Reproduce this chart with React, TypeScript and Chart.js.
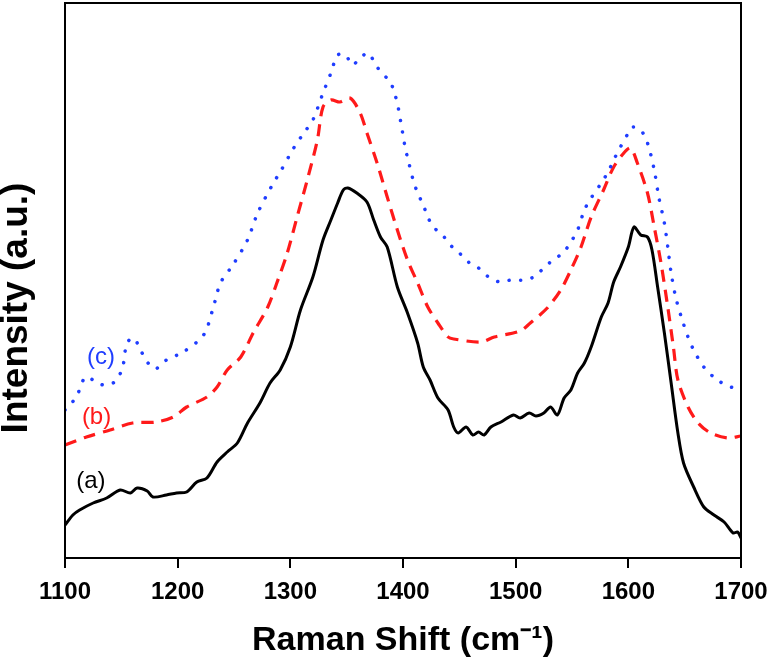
import React, { useEffect, useRef } from "react";
import { Chart, registerables } from "chart.js";

Chart.register(...registerables);

// Curve (a) — black solid
const aShift = [1100, 1107, 1113, 1125, 1137, 1149, 1158, 1164, 1173, 1178, 1190, 1199, 1208, 1217, 1226, 1235, 1244, 1253, 1262, 1273, 1282, 1291, 1300, 1309, 1320, 1329, 1336, 1342, 1347, 1351, 1359, 1368, 1374, 1380, 1386, 1395, 1404, 1413, 1418, 1424, 1431, 1440, 1445, 1449, 1456, 1462, 1467, 1472, 1478, 1487, 1498, 1504, 1512, 1518, 1525, 1531, 1537, 1543, 1549, 1555, 1561, 1567, 1576, 1582, 1587, 1593, 1600, 1605, 1611, 1617, 1621, 1626, 1632, 1638, 1644, 1649, 1658, 1667, 1676, 1685, 1693, 1697, 1700];
const aIntensity = [33, 43, 48, 55, 60, 68, 65, 70, 67, 61, 63, 65, 66, 76, 80, 96, 106, 115, 135, 155, 175, 188, 211, 248, 281, 318, 338, 355, 368, 370, 365, 356, 338, 321, 311, 271, 245, 215, 191, 178, 160, 148, 131, 125, 131, 123, 126, 123, 131, 136, 143, 140, 145, 142, 145, 151, 143, 160, 168, 185, 195, 211, 241, 255, 276, 291, 311, 331, 323, 321, 308, 271, 225, 175, 125, 95, 71, 51, 43, 36, 25, 26, 20];

// Curve (b) — red dashed
const bShift = [1100, 1119, 1140, 1160, 1181, 1196, 1208, 1226, 1235, 1244, 1256, 1267, 1280, 1288, 1297, 1306, 1315, 1324, 1329, 1336, 1344, 1353, 1362, 1368, 1377, 1386, 1395, 1404, 1413, 1422, 1431, 1440, 1445, 1469, 1481, 1504, 1513, 1528, 1540, 1549, 1558, 1567, 1578, 1587, 1596, 1602, 1608, 1617, 1623, 1629, 1635, 1640, 1644, 1653, 1662, 1673, 1688, 1700];
const bIntensity = [113, 121, 128, 135, 136, 141, 151, 161, 171, 188, 201, 225, 251, 275, 304, 341, 378, 418, 451, 458, 456, 460, 445, 425, 395, 361, 328, 298, 275, 251, 235, 221, 219, 216, 221, 227, 235, 250, 268, 288, 311, 341, 368, 391, 405, 410, 395, 365, 331, 295, 251, 211, 178, 151, 135, 125, 120, 122];

// Curve (c) — blue dotted
const cShift = [1100, 1110, 1118, 1125, 1134, 1144, 1151, 1155, 1161, 1167, 1173, 1180, 1190, 1205, 1223, 1231, 1238, 1249, 1262, 1271, 1285, 1291, 1303, 1312, 1320, 1329, 1336, 1342, 1349, 1355, 1362, 1369, 1377, 1389, 1393, 1396, 1398, 1400, 1402, 1405, 1409, 1413, 1418, 1422, 1427, 1435, 1442, 1450, 1458, 1467, 1476, 1486, 1496, 1507, 1516, 1525, 1533, 1542, 1549, 1555, 1561, 1567, 1576, 1582, 1587, 1593, 1600, 1604, 1611, 1617, 1623, 1627, 1632, 1635, 1638, 1642, 1647, 1653, 1658, 1667, 1679, 1691, 1700];
const cIntensity = [148, 161, 181, 178, 173, 176, 190, 215, 220, 208, 196, 189, 198, 206, 223, 248, 275, 293, 318, 345, 375, 386, 410, 425, 438, 465, 485, 503, 503, 493, 500, 505, 491, 475, 463, 449, 436, 423, 410, 396, 378, 365, 353, 341, 331, 323, 313, 305, 296, 290, 281, 276, 278, 278, 281, 290, 298, 305, 316, 328, 348, 360, 375, 386, 398, 411, 425, 431, 428, 415, 388, 361, 335, 311, 285, 261, 241, 221, 208, 191, 178, 171, 169];

const xTicks = [1100, 1200, 1300, 1400, 1500, 1600, 1700];

const curveLabels = ["(a)", "(b)", "(c)"];
const labelShift = [1123, 1128, 1132];
const labelIntensity = [77, 141, 201];
const curveColors = ["#000000", "#ff1a1a", "#1f3dff"];

const xTitle = "Raman Shift (cm\u207B\u00B9)";
const yTitle = "Intensity (a.u.)";

const FONT = "'Liberation Sans', Arial, sans-serif";

const toPoints = (xs: number[], ys: number[]) => xs.map((x, i) => ({ x, y: ys[i] }));

export default function App() {
  const ref = useRef<HTMLCanvasElement>(null);

  useEffect(() => {
    document.body.style.margin = "0";
    const canvas = ref.current;
    if (!canvas) return;

    const framePlugin = {
      id: "frame",
      afterDraw(chart: any) {
        const { ctx } = chart;
        const { left, top, right, bottom } = chart.chartArea;
        ctx.save();
        ctx.strokeStyle = "#000";
        ctx.lineWidth = 2;
        ctx.strokeRect(left, top, right - left, bottom - top);
        ctx.restore();
      },
    };

    const labelPlugin = {
      id: "curveLabels",
      afterDatasetsDraw(chart: any) {
        const { ctx } = chart;
        const xs = chart.scales.x;
        const ys = chart.scales.y;
        ctx.save();
        ctx.font = `24px ${FONT}`;
        ctx.textAlign = "center";
        ctx.textBaseline = "middle";
        curveLabels.forEach((t, i) => {
          ctx.fillStyle = curveColors[i];
          ctx.fillText(t, xs.getPixelForValue(labelShift[i]), ys.getPixelForValue(labelIntensity[i]));
        });
        ctx.restore();
      },
    };

    const yTitlePlugin = {
      id: "yTitle",
      afterDraw(chart: any) {
        const { ctx } = chart;
        const ys = chart.scales.y;
        ctx.save();
        ctx.translate(17, ys.getPixelForValue(250));
        ctx.rotate(-Math.PI / 2);
        ctx.font = `bold 37px ${FONT}`;
        ctx.fillStyle = "#000";
        ctx.textAlign = "center";
        ctx.textBaseline = "middle";
        ctx.fillText(yTitle, 0, 0);
        ctx.restore();
      },
    };

    const chart = new Chart(canvas, {
      type: "line",
      data: {
        datasets: [
          {
            label: "(c)",
            data: toPoints(cShift, cIntensity),
            borderColor: curveColors[2],
            borderWidth: 3.5,
            borderDash: [0.1, 11.5],
            borderCapStyle: "round",
            pointRadius: 0,
            tension: 0.3,
            fill: false,
          },
          {
            label: "(b)",
            data: toPoints(bShift, bIntensity),
            borderColor: curveColors[1],
            borderWidth: 3.2,
            borderDash: [12, 8],
            pointRadius: 0,
            tension: 0.3,
            fill: false,
          },
          {
            label: "(a)",
            data: toPoints(aShift, aIntensity),
            borderColor: curveColors[0],
            borderWidth: 3,
            pointRadius: 0,
            tension: 0.3,
            fill: false,
          },
        ],
      },
      options: {
        animation: false,
        responsive: false,
        maintainAspectRatio: false,
        devicePixelRatio: 1,
        layout: { padding: { left: 0, top: 3, right: 31, bottom: 0 } },
        plugins: {
          legend: { display: false },
          tooltip: { enabled: false },
        },
        scales: {
          x: {
            type: "linear",
            min: 1100,
            max: 1700,
            afterBuildTicks: (s: any) => {
              s.ticks = xTicks.map((v) => ({ value: v }));
            },
            afterFit: (s: any) => {
              s.height = 105;
              s.paddingLeft = 0;
              s.paddingRight = 0;
            },
            ticks: {
              color: "#000",
              padding: 10,
              maxRotation: 0,
              callback: (v: any) => String(v),
              font: { family: FONT, size: 24, weight: "bold" },
            },
            grid: {
              drawOnChartArea: false,
              drawTicks: true,
              tickLength: 10,
              color: "#000",
              lineWidth: 2,
            },
            border: { display: true, color: "#000", width: 2 },
            title: {
              display: true,
              text: xTitle,
              color: "#000",
              padding: { top: 0, bottom: 2 },
              font: { family: FONT, size: 34, weight: "bold", lineHeight: 1.2 },
            },
          },
          y: {
            type: "linear",
            min: 0,
            max: 555,
            afterFit: (s: any) => {
              s.width = 65;
            },
            ticks: { display: false },
            grid: { display: false },
            border: { display: true, color: "#000", width: 2 },
            title: { display: false, text: yTitle },
          },
        },
      },
      plugins: [framePlugin, labelPlugin, yTitlePlugin],
    } as any);

    return () => chart.destroy();
  }, []);

  return (
    <div style={{ width: 772, height: 663, position: "relative", background: "#fff" }}>
      <canvas ref={ref} width={772} height={663} style={{ display: "block", width: 772, height: 663 }} />
    </div>
  );
}
